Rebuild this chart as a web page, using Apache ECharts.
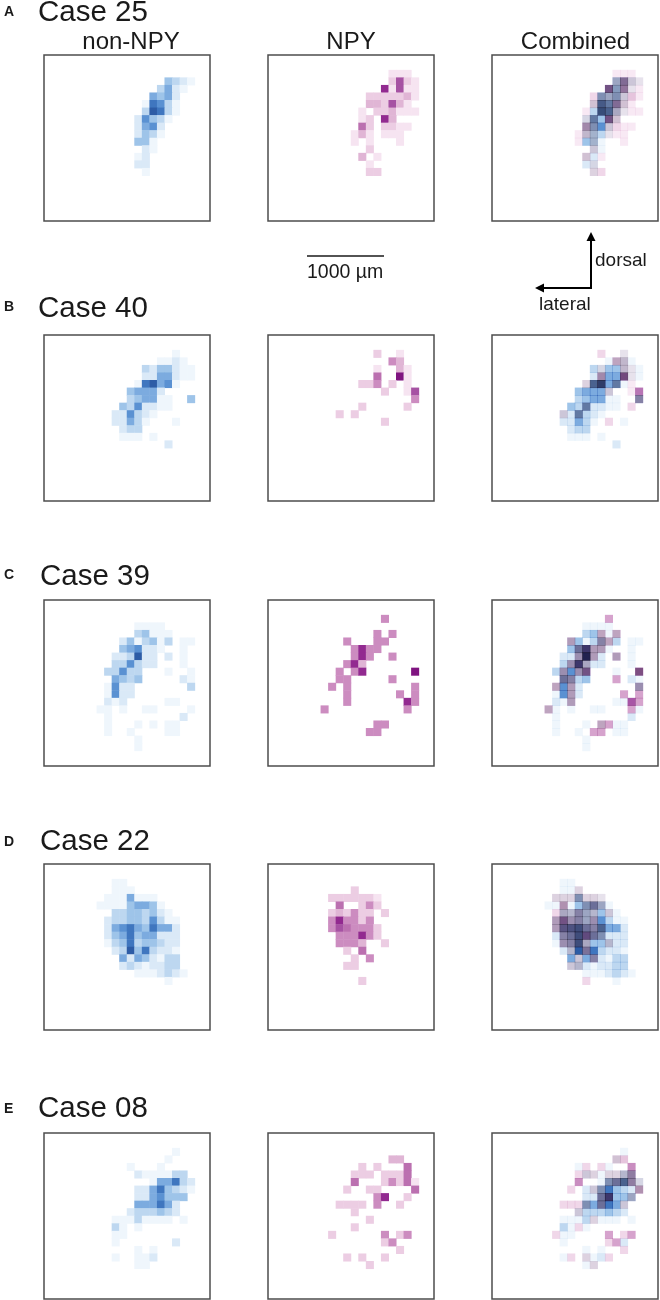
<!DOCTYPE html>
<html>
<head>
<meta charset="utf-8">
<title>NPY maps</title>
<script src="https://cdn.jsdelivr.net/npm/echarts@6/dist/echarts.min.js"></script>
<style>html,body{margin:0;padding:0;background:#fff}#main{width:660px;height:1300px}</style>
</head>
<body>
<div id="main"></div>
<script>
// density level (0-9), one entry per run of cells: [row, first column, levels]
var case25NonNpy = [
	[3,16,[4,3,2,1]], [4,15,[3,5,2,1]], [5,14,[5,4,5,2]], [6,13,[1,7,6,3,1]], [7,13,[3,8,7,3,1]],
	[8,12,[2,6,4,3,1]], [9,12,[2,5,6,2]], [10,12,[2,4,3,1]], [11,12,[4,4,1]], [12,13,[2,1]],
	[13,12,[1,2]], [14,12,[2,2]], [15,13,[1]]
];
var case25Npy = [
	[2,16,[1,1,1]], [3,16,[2,6,2,1]], [4,15,[7,1,6,1,1]], [5,13,[2,2,2,2,2,3,1]], [6,13,[3,3,2,6,3,1]],
	[7,12,[1,0,2,2,3,1,1,1]], [8,12,[1,2,0,7,3]], [9,12,[5,2,0,2,2,1,1]], [10,11,[1,3,1,0,1,1,1]],
	[11,11,[1,0,1,0,0,0,1]], [12,13,[2]], [13,12,[3,0,1]], [14,13,[1]], [15,13,[2,2]]
];
var case40NonNpy = [
	[2,17,[1]], [3,15,[1,1,2,1]], [4,13,[3,2,4,4,2,1,1]], [5,13,[2,2,5,5,2,1,1]], [6,12,[1,7,8,5,6,1]],
	[7,11,[4,5,5,5,2]], [8,11,[3,4,5,5,1,1,0,0,4]], [9,10,[4,3,6,2,2,1,1]], [10,9,[2,2,6,3,2,1]],
	[11,9,[2,2,5,3,1,0,0,0,1]], [12,10,[2,3,3]], [13,10,[1,1,1,0,1]], [14,16,[2]]
];
var case40Npy = [
	[2,14,[2,0,0,1]], [3,16,[4,3]], [4,14,[1,0,0,3,1]], [5,14,[5,0,0,8,1]], [6,12,[2,2,4,0,2,0,1]],
	[7,15,[2,0,0,1,6]], [8,19,[4]], [9,12,[2,0,0,0,0,0,2]], [10,9,[2,0,2]], [11,15,[2]]
];
var case39NonNpy = [
	[3,12,[1,1,1,1]], [4,12,[3,4,1,1,1]], [5,10,[2,4,1,3,4,1,3,0,1,1]], [6,10,[4,5,6,2,2,1,0,0,1]],
	[7,9,[2,2,3,8,2,2,0,2,0,1]], [8,9,[3,3,6,3,2,2,0,0,0,1]], [9,8,[3,3,6,3,3,0,0,0,1,0,0,1]],
	[10,9,[5,4,3,4,0,0,0,0,0,2,1]], [11,8,[1,6,2,2,0,0,0,0,0,0,0,3]], [12,8,[1,6,2,2]],
	[13,8,[2,1,2,0,0,0,0,0,1,1]], [14,7,[1,1,0,1,0,0,1,1,0,0,0,0,1]], [15,8,[1,0,0,0,0,0,0,0,0,0,2]],
	[16,8,[1,0,0,0,1,0,1,0,1,1]], [17,8,[1,0,0,1,0,0,0,0,1,1]], [18,12,[1]], [19,12,[1]]
];
var case39Npy = [
	[2,15,[4]], [4,14,[4,0,4]], [5,10,[4,0,0,0,4,4]], [6,11,[4,7,4,4]], [7,11,[4,7,4,0,0,4]],
	[8,10,[4,7,3]], [9,9,[4,0,4,7,0,0,0,0,0,0,8]], [10,9,[4,4,0,0,0,0,0,4]],
	[11,8,[4,0,4,0,0,0,0,0,0,0,0,4]], [12,10,[4,0,0,0,0,0,0,4,0,4]], [13,10,[4,0,0,0,0,0,0,0,7,4]],
	[14,7,[4,0,0,0,0,0,0,0,0,0,0,4]], [16,14,[4,4]], [17,13,[4,4]]
];
var case22NonNpy = [
	[2,9,[1,1]], [3,9,[1,1,1]], [4,8,[1,1,1,5,1,1,1]], [5,7,[1,1,1,1,4,5,5,4,1]], [6,9,[3,3,4,4,3,4,2,1]],
	[7,8,[2,3,3,4,4,3,6,3,1,1]], [8,8,[2,5,6,7,5,4,7,5,5,2]], [9,8,[2,4,5,7,4,5,5,2,2,2]],
	[10,8,[1,3,4,7,3,4,4,3,2,2]], [11,9,[2,3,8,4,7,3,2,2,1]], [12,10,[5,2,5,4,2,1,3,3]],
	[13,10,[2,3,2,1,2,2,3,3]], [14,12,[1,1,1,2,3,2,1]], [15,16,[1]]
];
var case22Npy = [
	[3,11,[2]], [4,8,[2,2,2,2,2,2,1]], [5,9,[5,0,0,2,4,2]], [6,8,[2,3,2,4,2,2,0,2]], [7,8,[4,7,4,4,2,4]],
	[8,8,[4,6,5,4,4,4,2]], [9,9,[4,4,4,7,4,2]], [10,9,[4,4,4,3,0,0,2]], [11,10,[2,0,5]], [12,11,[2,0,4]],
	[13,10,[2,2]], [15,12,[2]]
];
var case08NonNpy = [
	[2,17,[1]], [3,16,[1]], [4,11,[1,0,0,0,1]], [5,12,[2,1,1,1,1,3,3]], [6,14,[1,5,5,7,3,2]],
	[7,12,[2,2,5,7,4,3,2,1]], [8,12,[2,2,5,6,4,4,4]], [9,12,[5,5,5,7,5,2]], [10,11,[2,3,3,3,4,3,2]],
	[11,9,[1,1,1,3,1,1,1,1,0,1]], [12,9,[3,1,0,1]], [13,9,[1,1]], [14,9,[1,0,0,0,0,0,0,0,2]],
	[15,12,[1,0,1]], [16,9,[1,0,0,1,1,2]], [17,12,[1,1]]
];
var case08Npy = [
	[3,16,[3,3]], [4,12,[2,0,2,0,0,0,5]], [5,11,[2,2,2,0,2,2,2,5]], [6,11,[5,0,0,0,2,4,2,5,1]],
	[7,10,[2,0,0,2,2,0,0,0,0,5]], [8,14,[4,7,0,0,2]], [9,9,[2,2,2,2,0,4,0,0,2]], [10,11,[2]], [11,13,[2]],
	[12,11,[2]], [13,8,[2,0,0,0,0,0,0,4,0,2,4]], [14,15,[2,4]], [15,17,[2]], [16,10,[2,0,2,0,0,2]], [17,13,[2]]
];

var caseNames = ['Case 25', 'Case 40', 'Case 39', 'Case 22', 'Case 08'];
var panelLetters = ['A', 'B', 'C', 'D', 'E'];
var panelNames = ['non-NPY', 'NPY', 'Combined'];
var nonNpyCases = [case25NonNpy, case40NonNpy, case39NonNpy, case22NonNpy, case08NonNpy];
var npyCases = [case25Npy, case40Npy, case39Npy, case22Npy, case08Npy];

var blueLevels = ['#ffffff', '#eff6fc', '#dae9f7', '#bdd7f0', '#9ec4e9', '#7cabdf', '#5a91d2', '#3f76bf', '#2d5ca6', '#1c4290'];
var pinkLevels = ['#ffffff', '#f6e4f1', '#eccde3', '#e0b5d5', '#cc8cc0', '#bb70b0', '#a652a3', '#922a90', '#7f1480', '#650c6c'];

var cellIds = [];
for (var n = 0; n < 22; n++) cellIds.push(n);

var FONT = '"Liberation Sans", Arial, sans-serif';
var BOX = 166;
var rowTops = [55, 335, 600, 864, 1133];
var colLefts = [44, 268, 492];
var titleY = [21, 317, 585, 850, 1117];
var letterY = [17, 312, 580, 847, 1114];

// [row, col, levels] runs -> heatmap points
function toCells(runs) {
	var out = [];
	runs.forEach(function (run) {
		run[2].forEach(function (v, i) {
			if (v > 0) out.push([run[1] + i, run[0], v]);
		});
	});
	return out;
}

// cells present in both layers of a combined panel
function overlap(a, b) {
	var seen = {};
	toCells(a).forEach(function (p) { seen[p[0] + '_' + p[1]] = true; });
	return toCells(b).filter(function (p) { return seen[p[0] + '_' + p[1]]; });
}

var grids = [], xAxes = [], yAxes = [], series = [], blueIdx = [], pinkIdx = [], greyIdx = [], graphics = [];

function addSeries(g, cells, blend, opacity, idxList) {
	idxList.push(series.length);
	series.push({
		type: 'heatmap',
		xAxisIndex: g,
		yAxisIndex: g,
		data: cells,
		silent: true,
		blendMode: blend,
		itemStyle: { opacity: opacity },
		progressive: 0,
		animation: false
	});
}

function addText(text, x, y, size, bold, align) {
	graphics.push({
		type: 'text',
		x: x,
		y: y,
		style: {
			text: text,
			fill: '#1a1a1a',
			font: (bold ? 'bold ' : '') + size + 'px ' + FONT,
			textAlign: align || 'left',
			textVerticalAlign: 'bottom'
		}
	});
}

caseNames.forEach(function (name, r) {
	for (var c = 0; c < 3; c++) {
		var g = grids.length;
		grids.push({
			show: true,
			left: colLefts[c],
			top: rowTops[r],
			width: BOX,
			height: BOX,
			backgroundColor: 'transparent',
			borderColor: '#4d4d4d',
			borderWidth: 1.5
		});
		xAxes.push({ type: 'category', gridIndex: g, data: cellIds, show: false });
		yAxes.push({ type: 'category', gridIndex: g, data: cellIds, show: false, inverse: true });
		if (c === 0) addSeries(g, toCells(nonNpyCases[r]), 'source-over', 1, blueIdx);
		if (c === 1) addSeries(g, toCells(npyCases[r]), 'source-over', 1, pinkIdx);
		if (c === 2) {
			addSeries(g, toCells(nonNpyCases[r]), 'multiply', 1, blueIdx);
			addSeries(g, toCells(npyCases[r]), 'multiply', 0.8, pinkIdx);
			// overlapping cells go greyish in the original
			addSeries(g, overlap(nonNpyCases[r], npyCases[r]), 'saturation', 0.4, greyIdx);
		}
	}
	addText(name, name === 'Case 39' || name === 'Case 22' ? 40 : 38, titleY[r] + 7, 29.5);
	addText(panelLetters[r], 4, letterY[r] + 2, 14, true);
});

addText(panelNames[0], 131, 54, 24, false, 'center');
addText(panelNames[1], 351, 54, 24, false, 'center');
addText(panelNames[2], 575.5, 54, 24, false, 'center');

// scale bar
graphics.push({ type: 'line', shape: { x1: 307, y1: 256, x2: 384, y2: 256 }, style: { stroke: '#1a1a1a', lineWidth: 1.5 } });
addText('1000 µm', 307, 282.5, 19.5);

// orientation arrows
graphics.push({ type: 'polyline', shape: { points: [[591, 238], [591, 288], [542, 288]] }, style: { stroke: '#000', lineWidth: 2, fill: null } });
graphics.push({ type: 'polygon', shape: { points: [[591, 232], [595.5, 241], [586.5, 241]] }, style: { fill: '#000' } });
graphics.push({ type: 'polygon', shape: { points: [[535, 288], [544, 283.5], [544, 292.5]] }, style: { fill: '#000' } });
addText('dorsal', 595, 270.5, 19);
addText('lateral', 539, 314.5, 19);

var myChart = echarts.init(document.getElementById('main'), null, { renderer: 'canvas' });
myChart.setOption({
	backgroundColor: '#ffffff',
	animation: false,
	grid: grids,
	xAxis: xAxes,
	yAxis: yAxes,
	visualMap: [
		{ show: false, type: 'continuous', seriesIndex: blueIdx, min: 0, max: 9, dimension: 2, inRange: { color: blueLevels } },
		{ show: false, type: 'continuous', seriesIndex: pinkIdx, min: 0, max: 9, dimension: 2, inRange: { color: pinkLevels } },
		{ show: false, type: 'continuous', seriesIndex: greyIdx, min: 0, max: 9, dimension: 2, inRange: { color: ['#808080', '#808080'] } }
	],
	series: series,
	graphic: graphics
});
</script>
</body>
</html>
